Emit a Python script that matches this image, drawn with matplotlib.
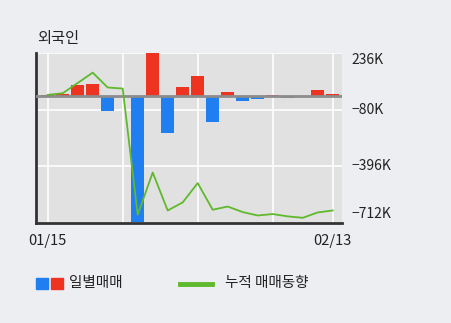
import matplotlib
matplotlib.use('Agg')
import matplotlib.pyplot as plt
from matplotlib.patches import Rectangle
from matplotlib.lines import Line2D
import numpy as np

plt.rcParams['font.family'] = ['Noto Sans CJK KR', 'DejaVu Sans']

# daily net trade of foreigners (thousand shares), 01/15 .. 02/13
daily = [3, 9, 58, 62, -84, -5, -705, 236, -212, 45,
         110, -145, 20, -33, -22, 2, -11, -2, 32, 9]
# cumulative trend (thousand shares)
cumulative = [4, 13, 70, 128, 45, 39, -666, -430, -642, -597,
              -489, -638, -620, -651, -670, -662, -675, -683, -653, -642]
tick_values = [236, -80, -396, -712]
tick_labels = ['236K', '\u221280K', '\u2212396K', '\u2212712K']
date_labels = ['01/15', '02/13']

RED = '#ee3420'
BLUE = '#1f7ef0'
GREEN = '#5fb92c'
BG = '#edeef2'
PLOT_BG = '#e1e1e1'
TXT = '#222222'

W, H = 451, 323
fig = plt.figure(figsize=(W / 100, H / 100), dpi=100)
fig.patch.set_facecolor(BG)

left, right, top, bottom = 36, 342, 53.3, 223
ax = fig.add_axes([left / W, 1 - bottom / H, (right - left) / W, (bottom - top) / H])
ax.set_facecolor(PLOT_BG)

x = np.arange(len(daily))
ax.set_xlim(-0.78, 19.62)
ax.set_ylim(-712, 236)

# grid
for v in tick_values:
    ax.axhline(v, color='white', lw=1.2, zorder=1)
for i in [0, 5, 10, 15, 19]:
    ax.axvline(i, color='white', lw=1.2, zorder=1)

colors = [RED if v >= 0 else BLUE for v in daily]
ax.bar(x, daily, width=0.87, color=colors, zorder=2)
ax.axhline(0, color='#8c8c8c', lw=2, zorder=3)
ax.plot(x, cumulative, color=GREEN, lw=1.3, zorder=4)

for s in ['top', 'right']:
    ax.spines[s].set_visible(False)
for s in ['left', 'bottom']:
    ax.spines[s].set_color('#333333')
    ax.spines[s].set_linewidth(2)

ax.set_xticks([])
ax.set_yticks([])

# right side labels (top/bottom ones sit inside the plot range)
label_y = [59.5, 110, 166, 214.5]
for yy, lab in zip(label_y, tick_labels):
    fig.text(351 / W, 1 - yy / H, lab, ha='left', va='center', fontsize=10, color=TXT)

# date labels under first and last day
for i, lab in zip([0, 19], date_labels):
    xf = (left + (i + 0.78) / 20.4 * (right - left)) / W
    fig.text(xf, 1 - 241 / H, lab, ha='center', va='center', fontsize=10.5, color=TXT)

fig.text(37 / W, 1 - 39 / H, '외국인', ha='left', va='center', fontsize=11, color=TXT)

# legend
fig.patches.append(Rectangle((36 / W, 1 - 289 / H), 12 / W, 11 / H,
                             transform=fig.transFigure, color=BLUE))
fig.patches.append(Rectangle((51 / W, 1 - 289 / H), 12 / W, 11 / H,
                             transform=fig.transFigure, color=RED))
fig.text(69 / W, 1 - 283.5 / H, '일별매매', ha='left', va='center', fontsize=10.5, color=TXT)
fig.lines.append(Line2D([180 / W, 212 / W], [1 - 283.5 / H, 1 - 283.5 / H],
                        transform=fig.transFigure, color=GREEN, lw=3.5))
fig.text(225 / W, 1 - 283.5 / H, '누적 매매동향', ha='left', va='center', fontsize=10.5, color=TXT)

fig.savefig('out.png', dpi=100, facecolor=BG)
